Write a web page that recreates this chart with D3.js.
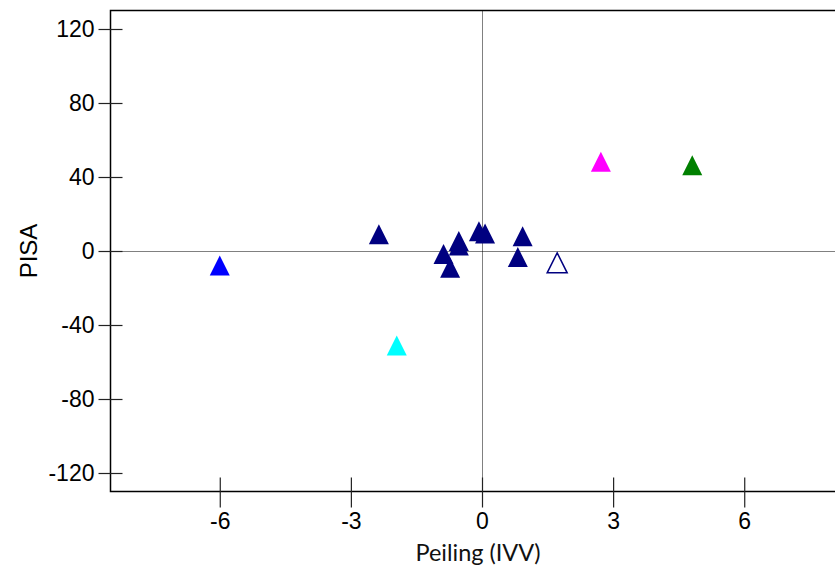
<!DOCTYPE html>
<html>
<head>
<meta charset="utf-8">
<script src="https://cdn.jsdelivr.net/npm/d3@7"></script>
<style>
  body { margin: 0; background: #fff; }
  svg { display: block; }
</style>
</head>
<body>
<div id="chart-container"></div>
<script>
// data
const peiling = [-6.0, -1.95, -2.36, -0.88, -0.73, -0.53, -0.53, -0.07, 0.07, 0.93, 0.82, 1.72, 2.72, 4.81];
const pisa    = [-7.8, -51.1, 9.1, -1.6, -9.0, 5.4, 3.0, 10.7, 9.4, 8.0, -3.3, -6.4, 48.2, 46.3];
const fills   = ["#0000ff", "#00ffff", "#000080", "#000080", "#000080", "#000080", "#000080",
                 "#000080", "#000080", "#000080", "#000080", "#ffffff", "#ff00ff", "#008000"];
const strokes = ["none", "none", "none", "none", "none", "none", "none",
                 "none", "none", "none", "none", "#000080", "none", "none"];
const xTicks = [-6, -3, 0, 3, 6];
const yTicks = [-120, -80, -40, 0, 40, 80, 120];

const data = peiling.map((d, i) => ({x: d, y: pisa[i], fill: fills[i], stroke: strokes[i]}));

// the plot runs past the right edge of the window, like the original
const margin = {top: 10.5, left: 110.5};
const width = 743;
const height = 481;

const svg = d3.select("#chart-container")
  .append("svg")
    .attr("width", 835)
    .attr("height", 570)
  .append("g")
    .attr("transform", `translate(${margin.left},${margin.top})`);

const x = d3.scaleLinear().domain([-8.5, 8.5]).range([0, width]);
const y = d3.scaleLinear().domain([-130, 130]).range([height, 0]);

// frame (top + left + bottom)
svg.append("path")
  .attr("d", `M${width},0H0V${height}H${width}`)
  .attr("fill", "none")
  .attr("stroke", "#000")
  .attr("stroke-width", 1.5);

// zero lines, dotted (group is already on a half pixel)
svg.append("line")
  .attr("x1", 0).attr("x2", width)
  .attr("y1", Math.round(y(0))).attr("y2", Math.round(y(0)))
  .attr("stroke", "#000").attr("stroke-width", 1)
  .attr("stroke-dasharray", "1,1");
svg.append("line")
  .attr("x1", Math.round(x(0))).attr("x2", Math.round(x(0)))
  .attr("y1", 0).attr("y2", height)
  .attr("stroke", "#000").attr("stroke-width", 1)
  .attr("stroke-dasharray", "1,1");

const fmt = d => String(d);

// Y axis
const yAxis = svg.append("g")
  .call(d3.axisLeft(y).tickValues(yTicks).tickSize(12).tickPadding(4).tickFormat(fmt));
yAxis.select(".domain").remove();
yAxis.selectAll(".tick line").attr("x2", 12).attr("x1", -12).attr("stroke", "#222").attr("stroke-width", 1.2);
yAxis.selectAll(".tick text")
  .attr("x", -16)
  .style("font-family", "'Liberation Sans', Arial, sans-serif")
  .style("font-size", "23px")
  .attr("fill", "#000");

// X axis
const xAxis = svg.append("g")
  .attr("transform", `translate(0,${height})`)
  .call(d3.axisBottom(x).tickValues(xTicks).tickSize(16).tickPadding(5).tickFormat(fmt));
xAxis.select(".domain").remove();
xAxis.selectAll(".tick line").attr("y1", -14).attr("y2", 16).attr("stroke", "#222").attr("stroke-width", 1.2);
xAxis.selectAll(".tick text")
  .attr("y", 21)
  .style("font-family", "'Liberation Sans', Arial, sans-serif")
  .style("font-size", "23px")
  .attr("fill", "#000");

// triangles
const tri = "M0,-10L10,10L-10,10Z";
svg.append("g")
  .selectAll("path")
  .data(data)
  .enter()
  .append("path")
    .attr("d", tri)
    .attr("transform", d => `translate(${x(d.x)},${y(d.y)})`)
    .attr("fill", d => d.fill)
    .attr("stroke", d => d.stroke)
    .attr("stroke-width", 1.5);

// axis labels
svg.append("text")
  .attr("x", x(0) - 4)
  .attr("y", 561 - margin.top)
  .attr("text-anchor", "middle")
  .style("font-family", "Lato, 'Open Sans', sans-serif")
  .style("font-size", "23.5px")
  .attr("fill", "#111")
  .text("Peiling (IVV)");

svg.append("text")
  .attr("transform", "rotate(-90)")
  .attr("x", -(y(0)))
  .attr("y", 37 - margin.left)
  .attr("text-anchor", "middle")
  .style("font-family", "'Liberation Sans', Arial, sans-serif")
  .style("font-size", "24px")
  .attr("fill", "#000")
  .text("PISA");
</script>
</body>
</html>
